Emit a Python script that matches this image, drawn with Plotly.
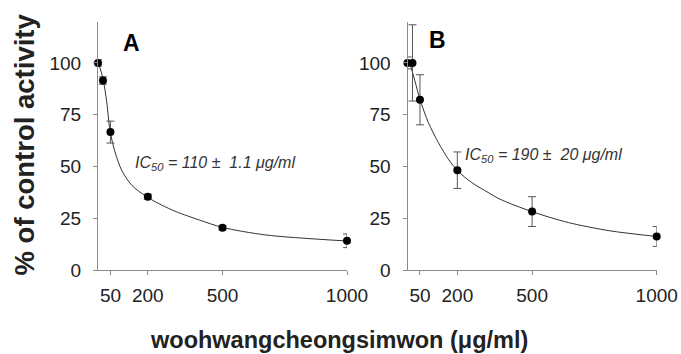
import plotly.graph_objects as go

# ---- data ----
conc = [0, 20, 50, 200, 500, 1000]

a_mean = [100, 91.5, 66.6, 35.4, 20.4, 14.1]
a_err = [1.5, 1.8, 5.3, 1.2, 1.0, 3.3]

b_mean = [100, 100, 82.2, 48.2, 28.2, 16.2]
b_err = [2.9, 18.4, 12.1, 8.8, 7.2, 4.8]

# fitted curves, points
a_fit_x = [2, 21, 35, 48, 68, 95, 135, 195, 255, 315, 408, 499, 675, 1000]
a_fit_y = [100.2, 91.7, 81.2, 67.5, 57.1, 48.2, 41.0, 35.4, 31.4, 28.1, 24.1, 20.6, 16.9, 14.0]
b_fit_x = [8, 30, 50, 84, 124, 164, 202, 258, 324, 371, 499, 646, 813, 1000]
b_fit_y = [100.5, 91.2, 82.4, 71.1, 61.5, 53.5, 47.8, 42.2, 37.4, 34.2, 28.2, 22.9, 18.9, 16.2]

x_ticks = [50, 200, 500, 1000]
y_ticks = [0, 25, 50, 75, 100]

panel_labels = ["A", "B"]
ic50_texts = ["110 ±\u00a0\u00a01.1", "190 ±\u00a0\u00a020"]

W, H = 681, 354
FONT = "Liberation Sans, Arial, sans-serif"
AXIS_COL = "#8a8a8a"
TEXT_COL = "#222222"

fig = go.Figure()

panels = [
    (a_mean, a_err, a_fit_x, a_fit_y, "x", "y"),
    (b_mean, b_err, b_fit_x, b_fit_y, "x2", "y2"),
]
for mean, err, fx, fy, xa, ya in panels:
    fig.add_trace(go.Scatter(
        x=fx, y=fy, mode="lines", line=dict(color="#333333", width=1, shape="spline", smoothing=0.8),
        xaxis=xa, yaxis=ya, showlegend=False, hoverinfo="skip"))
    fig.add_trace(go.Scatter(
        x=conc, y=mean, mode="markers",
        marker=dict(color="black", size=8),
        error_y=dict(type="data", array=err, visible=True, color="#555555", thickness=1, width=4),
        xaxis=xa, yaxis=ya, showlegend=False, cliponaxis=False))

ydom = [(H - 270) / H, (H - 21.5) / H]
xdomA = [98 / W, 347 / W]
xdomB = [407.5 / W, 656.7 / W]

def xaxis(dom, anchor):
    return dict(domain=dom, anchor=anchor, range=[0, 1000], tickvals=x_ticks,
                ticktext=[str(v) for v in x_ticks], showgrid=False, zeroline=False,
                showline=True, linecolor=AXIS_COL, linewidth=1, ticks="outside",
                ticklen=4, tickcolor=AXIS_COL, ticklabelstandoff=4, automargin=False,
                tickfont=dict(family=FONT, size=19, color=TEXT_COL))

def yaxis(anchor):
    return dict(domain=ydom, anchor=anchor, range=[0, 120], tickvals=y_ticks,
                showgrid=False, zeroline=False, showline=True, linecolor=AXIS_COL,
                linewidth=1, ticks="outside", ticklen=4, tickcolor=AXIS_COL, automargin=False,
                ticklabelstandoff=8, tickfont=dict(family=FONT, size=19, color=TEXT_COL))

fig.update_layout(
    width=W, height=H, margin=dict(l=0, r=0, t=0, b=0, pad=0),
    paper_bgcolor="white", plot_bgcolor="white",
    xaxis=xaxis(xdomA, "y"), yaxis=yaxis("x"),
    xaxis2=xaxis(xdomB, "y2"), yaxis2=yaxis("x2"),
)

def note(text, px, py, size, color, **kw):
    fig.add_annotation(x=px / W, y=1 - py / H, xref="paper", yref="paper",
                       xanchor=kw.pop("xanchor", "center"), yanchor="middle",
                       text=text, showarrow=False,
                       font=dict(family=FONT, size=size, color=color), **kw)

# panel letters
note("<b>" + panel_labels[0] + "</b>", 131, 43, 23, "black")
note("<b>" + panel_labels[1] + "</b>", 437, 40, 23, "black")

# IC50 labels
note("<i>IC<sub>50</sub> = " + ic50_texts[0] + " μg/ml</i>", 133, 164, 16, "#333333", xanchor="left")
note("<i>IC<sub>50</sub> = " + ic50_texts[1] + " μg/ml</i>", 463, 156, 16, "#333333", xanchor="left")

# axis titles
note("<b>% of control activity</b>", 24.5, 145, 27.5, TEXT_COL, textangle=-90)
note("<b>woohwangcheongsimwon (μg/ml)</b>", 339, 340, 23.5, TEXT_COL)

fig.write_html("out.html", config={"displayModeBar": False},
               post_script="document.body.style.margin='0';document.body.style.overflow='hidden';")
